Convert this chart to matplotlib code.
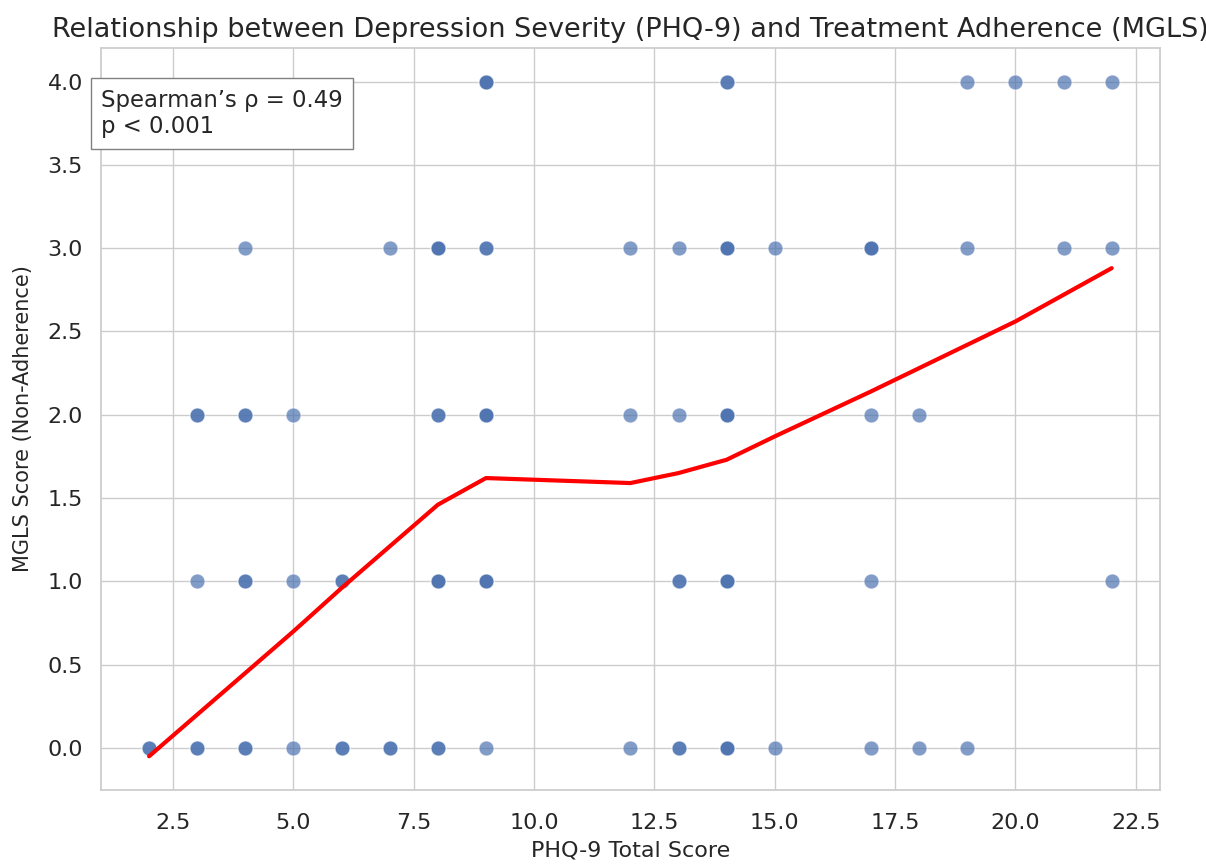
import numpy as np
import matplotlib.pyplot as plt
import seaborn as sns

# Observations: (PHQ-9 score, MGLS score, how many patients share that pair)
phq9 = [9, 14, 19, 20, 21, 22,
        4, 7, 8, 9, 12, 13, 14, 15, 17, 19, 21, 22,
        3, 4, 5, 8, 9, 12, 13, 14, 17, 18,
        3, 4, 5, 6, 8, 9, 13, 14, 17, 22,
        2, 3, 4, 5, 6, 7, 8, 9, 12, 13, 14, 15, 17, 18, 19]
mgls = [4, 4, 4, 4, 4, 4,
        3, 3, 3, 3, 3, 3, 3, 3, 3, 3, 3, 3,
        2, 2, 2, 2, 2, 2, 2, 2, 2, 2,
        1, 1, 1, 1, 1, 1, 1, 1, 1, 1,
        0, 0, 0, 0, 0, 0, 0, 0, 0, 0, 0, 0, 0, 0, 0]
counts = [3, 2, 1, 1, 1, 1,
          1, 1, 3, 2, 1, 1, 3, 1, 3, 1, 1, 1,
          2, 2, 1, 2, 3, 1, 1, 3, 1, 1,
          1, 2, 1, 2, 3, 3, 2, 3, 1, 1,
          2, 2, 2, 1, 2, 2, 2, 1, 1, 2, 3, 1, 1, 1, 1]

# LOWESS trend
trend_x = [2, 3, 4, 5, 6, 7, 8, 9, 12, 13, 14, 15, 17, 18, 19, 20, 21, 22]
trend_y = [-0.05, 0.20, 0.45, 0.70, 0.96, 1.21, 1.46, 1.62, 1.59, 1.65, 1.73,
           1.87, 2.14, 2.28, 2.42, 2.56, 2.72, 2.88]

x = np.repeat(phq9, counts)
y = np.repeat(mgls, counts)

sns.set_theme(style="whitegrid")
plt.rcParams['font.family'] = ['DejaVu Sans']

fig = plt.figure(figsize=(12.06, 8.65), dpi=100)
ax = fig.add_axes([0.0837, 0.0867, 0.878, 0.858])

ax.scatter(x, y, s=115, color="#4C72B0", alpha=0.7, edgecolor="white", linewidth=0.6)
ax.plot(trend_x, trend_y, color="red", linewidth=3.0)

ax.set_title("Relationship between Depression Severity (PHQ-9) and Treatment Adherence (MGLS)",
             fontsize=19.5, color=".15", pad=8)
ax.set_xlabel("PHQ-9 Total Score", fontsize=16, color=".15", labelpad=5.5)
ax.set_ylabel("MGLS Score (Non-Adherence)", fontsize=15, color=".15", labelpad=10)
ax.tick_params(labelsize=16)
ax.tick_params(axis="x", pad=10.5)
ax.tick_params(axis="y", pad=7)

ax.text(0.0, 0.945, "Spearman\u2019s \u03c1 = 0.49\np < 0.001", transform=ax.transAxes,
        fontsize=16.4, va="top", ha="left", color=".15",
        bbox=dict(boxstyle="square,pad=0.45", facecolor="white", edgecolor="gray"))

fig.savefig("out.png", dpi=100)
